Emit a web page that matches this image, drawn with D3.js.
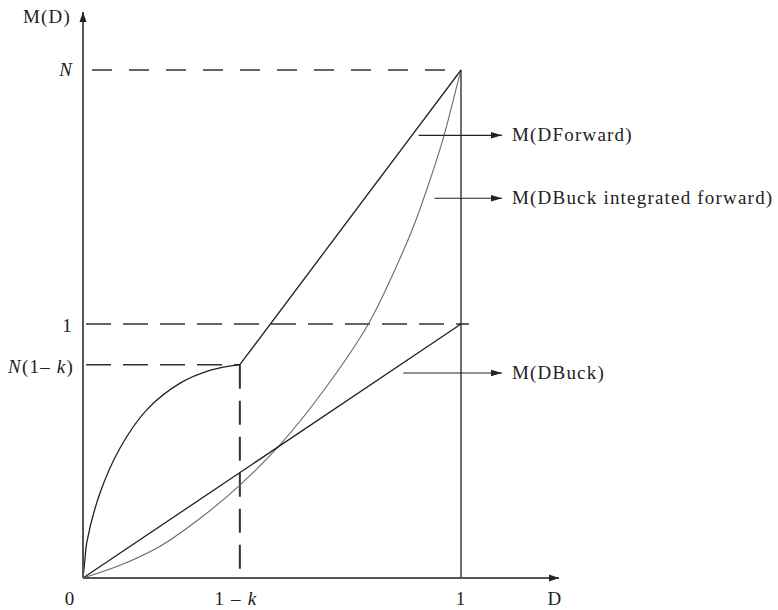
<!DOCTYPE html>
<html><head><meta charset="utf-8">
<script src="https://cdn.jsdelivr.net/npm/d3@7"></script>
<style>
body{margin:0;background:#fff;}
text{font-family:"Liberation Serif","DejaVu Serif",serif;fill:#222;letter-spacing:1.2px;}
</style></head>
<body><svg id="c" width="778" height="610"></svg>
<script>
// ---- data ----
const N = 2;
const oneMinusK = 0.415;
const NoneMinusK = 0.84;
// concave rising curve from origin to (1-k, N(1-k))
const riseD = [0, 0.005, 0.0098, 0.045, 0.098, 0.168, 0.257, 0.34, 0.415];
const riseM = [0, 0.071, 0.138, 0.335, 0.512, 0.661, 0.767, 0.819, 0.84];
// M(DForward): straight line from (1-k, N(1-k)) to (1, N)
const fwdD = [0.415, 1];
const fwdM = [0.84, 2];
// M(DBuck): straight line
const buckD = [0, 1];
const buckM = [0, 1];
// M(DBuck integrated forward): grey convex curve
const intD = [0, 0.098, 0.204, 0.31, 0.415, 0.521, 0.64, 0.755, 0.821, 0.874, 0.918, 0.949, 0.966, 0.984, 1];
const intM = [0, 0.05, 0.125, 0.235, 0.366, 0.524, 0.745, 1.0, 1.2, 1.383, 1.567, 1.711, 1.803, 1.908, 2];
// tick labels
const xTickVals = [0, 0.415, 1];
const xTickLabels = [["0"], ["1 – ", "k"], ["1"]];
const yTickVals = [2, 1, 0.84];
const annotations = [
  {label: "M(DForward)", m: 1.743, from: 0.888},
  {label: "M(DBuck integrated forward)", m: 1.495, from: 0.93},
  {label: "M(DBuck)", m: 0.807, from: 0.847}
];

// ---- drawing ----
const svg = d3.select("#c");
const x = d3.scaleLinear().domain([0, 1]).range([83, 461]);
const y = d3.scaleLinear().domain([0, 1]).range([578, 324]);

const defs = svg.append("defs");
defs.append("marker").attr("id", "ah").attr("viewBox", "0 0 10 10")
  .attr("refX", 10).attr("refY", 5).attr("markerWidth", 11).attr("markerHeight", 11)
  .attr("markerUnits", "userSpaceOnUse").attr("orient", "auto")
  .append("path").attr("d", "M0,2 L10,5 L0,8 Z").attr("fill", "#222");
defs.append("marker").attr("id", "ahAxis").attr("viewBox", "0 0 10 10")
  .attr("refX", 10).attr("refY", 5).attr("markerWidth", 10).attr("markerHeight", 10)
  .attr("markerUnits", "userSpaceOnUse").attr("orient", "auto")
  .append("path").attr("d", "M0,1.5 L10,5 L0,8.5 Z").attr("fill", "#222");

// dashed guide lines
const dashColor = "#333";
svg.append("line").attr("x1", 92).attr("x2", x(1)).attr("y1", y(N)).attr("y2", y(N))
  .attr("stroke", dashColor).attr("stroke-width", 1.5).attr("stroke-dasharray", "20,17");
svg.append("line").attr("x1", 86).attr("x2", x(1) + 8).attr("y1", y(1)).attr("y2", y(1))
  .attr("stroke", dashColor).attr("stroke-width", 1.5).attr("stroke-dasharray", "25,12");
svg.append("line").attr("x1", 86).attr("x2", x(oneMinusK)).attr("y1", y(NoneMinusK)).attr("y2", y(NoneMinusK))
  .attr("stroke", dashColor).attr("stroke-width", 1.5).attr("stroke-dasharray", "25,12");
svg.append("line").attr("x1", x(oneMinusK)).attr("x2", x(oneMinusK)).attr("y1", y(NoneMinusK)).attr("y2", y(0))
  .attr("stroke", dashColor).attr("stroke-width", 2).attr("stroke-dasharray", "24,12");

// vertical solid line at D = 1
svg.append("line").attr("x1", x(1)).attr("x2", x(1)).attr("y1", y(N)).attr("y2", y(0))
  .attr("stroke", "#222").attr("stroke-width", 1.3);

const zip = (a, b) => a.map((v, i) => [v, b[i]]);
const lineGen = (c) => d3.line().x(d => x(d[0])).y(d => y(d[1])).curve(c);

svg.append("path").attr("d", lineGen(d3.curveCatmullRom.alpha(0.5))(zip(intD, intM)))
  .attr("fill", "none").attr("stroke", "#6a6a6a").attr("stroke-width", 1.1);
svg.append("path").attr("d", lineGen(d3.curveCatmullRom.alpha(0.5))(zip(riseD, riseM)))
  .attr("fill", "none").attr("stroke", "#222").attr("stroke-width", 1.3);
svg.append("path").attr("d", lineGen(d3.curveLinear)(zip(fwdD, fwdM)))
  .attr("fill", "none").attr("stroke", "#222").attr("stroke-width", 1.3);
svg.append("path").attr("d", lineGen(d3.curveLinear)(zip(buckD, buckM)))
  .attr("fill", "none").attr("stroke", "#222").attr("stroke-width", 1.3);

// axes
svg.append("line").attr("x1", x(0)).attr("x2", 559).attr("y1", y(0)).attr("y2", y(0))
  .attr("stroke", "#555").attr("stroke-width", 2).attr("marker-end", "url(#ahAxis)");
svg.append("line").attr("x1", x(0)).attr("x2", x(0)).attr("y1", y(0)).attr("y2", 12)
  .attr("stroke", "#555").attr("stroke-width", 2).attr("marker-end", "url(#ahAxis)");

const fs = 19;
svg.append("text").attr("x", 71).attr("y", 23).attr("text-anchor", "end")
  .attr("font-size", fs).text("M(D)");
svg.append("text").attr("x", 555).attr("y", 605).attr("text-anchor", "middle")
  .attr("font-size", fs).text("D");

// x tick labels
xTickVals.forEach((v, i) => {
  const t = svg.append("text").attr("x", x(v) - (i === 0 ? 13 : (i === 1 ? 4 : 0))).attr("y", 605)
    .attr("text-anchor", "middle").attr("font-size", fs);
  xTickLabels[i].forEach((s, j) => {
    t.append("tspan").attr("font-style", j === 1 ? "italic" : "normal").text(s);
  });
});

// y tick labels
svg.append("text").attr("x", 73).attr("y", y(yTickVals[0]) + 6).attr("text-anchor", "end")
  .attr("font-size", fs).attr("font-style", "italic").text("N");
svg.append("text").attr("x", 73).attr("y", y(yTickVals[1]) + 8).attr("text-anchor", "end")
  .attr("font-size", fs).text("1");
const yt3 = svg.append("text").attr("x", 74).attr("y", y(yTickVals[2]) + 8).attr("text-anchor", "end")
  .attr("font-size", fs);
yt3.append("tspan").attr("font-style", "italic").text("N");
yt3.append("tspan").text("(1– ");
yt3.append("tspan").attr("font-style", "italic").text("k");
yt3.append("tspan").text(")");

// annotations
annotations.forEach(a => {
  svg.append("line").attr("x1", x(a.from)).attr("x2", 502).attr("y1", y(a.m)).attr("y2", y(a.m))
    .attr("stroke", "#222").attr("stroke-width", 1.2).attr("marker-end", "url(#ah)");
  svg.append("text").attr("x", 512).attr("y", y(a.m) + 6).attr("font-size", fs).text(a.label);
});
</script></body></html>
